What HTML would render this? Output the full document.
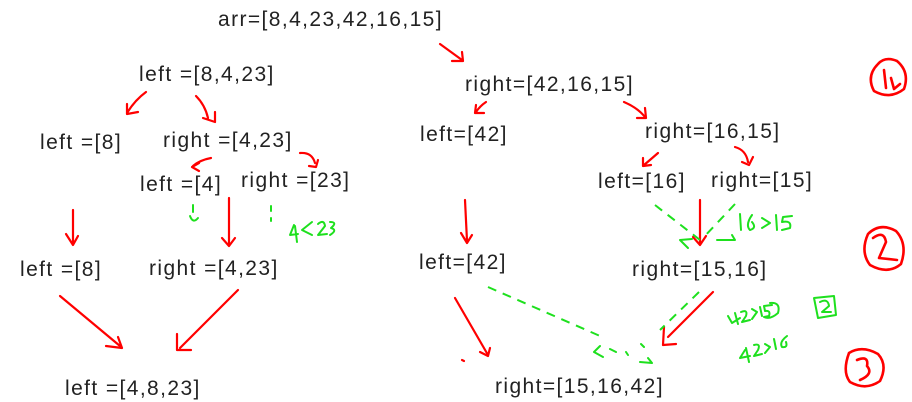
<!DOCTYPE html>
<html><head><meta charset="utf-8"><style>
html,body{margin:0;padding:0;background:#fff;}
svg{display:block;}
text{font-family:"Liberation Sans",Arial,sans-serif;font-size:21px;letter-spacing:1.4px;fill:#222;}
.r{stroke:#f00;stroke-width:2.2;fill:none;stroke-linecap:round;stroke-linejoin:round;}
.g{stroke:#1ee01e;stroke-width:2;fill:none;stroke-linecap:round;stroke-linejoin:round;}
.gd{stroke:#1ee01e;stroke-width:2;fill:none;stroke-dasharray:9 7;}
</style></head><body>
<svg width="912" height="402" viewBox="0 0 912 402">
<g>
<text x="218" y="26">arr=[8,4,23,42,16,15]</text>
<text x="139" y="81">left =[8,4,23]</text>
<text x="465" y="91">right=[42,16,15]</text>
<text x="40" y="149">left =[8]</text>
<text x="163" y="147">right =[4,23]</text>
<text x="420" y="141">left=[42]</text>
<text x="645" y="138">right=[16,15]</text>
<text x="140" y="191">left =[4]</text>
<text x="241" y="187">right =[23]</text>
<text x="598" y="188">left=[16]</text>
<text x="711" y="187">right=[15]</text>
<text x="20" y="276">left =[8]</text>
<text x="149" y="275">right =[4,23]</text>
<text x="419" y="269">left=[42]</text>
<text x="632" y="276">right=[15,16]</text>
<text x="65" y="395">left =[4,8,23]</text>
<text x="495" y="393">right=[15,16,42]</text>
</g>
<g>
<path class="r" d="M440 44 L462 60 M452 61 L463 61 L462 52"/>
<path class="r" d="M146 92 Q135 100 127 113 M127 104 L127 114 L138 112"/>
<path class="r" d="M196 96 Q205 105 208 118 M203 118 L215 122 L215 112"/>
<path class="r" d="M211 158 Q200 160 193 166 M199 171 L192 167 L199 163"/>
<path class="r" d="M300 153 Q312 152 315 163 M309 166 L316 167 L318 160"/>
<path class="r" d="M486 102 Q480 106 476 112 M476 105 L475 113 L484 113"/>
<path class="r" d="M624 102 Q638 108 645 117 M637 118 L646 118 L645 108"/>
<path class="r" d="M658 153 Q650 160 644 165 M643 158 L643 166 L651 165"/>
<path class="r" d="M735 147 Q746 150 748 162 M742 162 L749 165 L753 157"/>
<path class="r" d="M73 210 L73 244 M66 234 L73 245 L78 236"/>
<path class="r" d="M229 198 L229 244 M222 238 L229 246 L235 238"/>
<path class="r" d="M465 200 L467 241 M461 233 L467 243 L472 235"/>
<path class="r" d="M700 200 L700 243 M693 237 L700 245 L706 236"/>
<path class="r" d="M60 296 L120 346 M106 346 L122 348 L118 337"/>
<path class="r" d="M238 290 L180 348 M177 334 L177 350 L191 350"/>
<path class="r" d="M455 298 L488 355 M480 352 L488 356 L490 348 M462 360 L464 361"/>
<path class="r" d="M713 292 L668 337 M664 327 L663 345 L676 344"/>
</g>
<g>
<path class="g" d="M193 205 L193 212 M190 216 Q193 224 198 218"/>
<path class="g" d="M271 206 L271 211 M271 218 L271 221"/>
<path class="g" d="M294 225 L290 235 L298 234 M295 226 L297 242 M312 222 L302 230 L312 235 M318 224 Q324 219 325 226 L318 235 L327 234 M330 222 Q338 222 331 228 Q338 230 330 235"/>
<path class="gd" d="M655 205 L700 240 M735 204 L703 238"/>
<path class="g" d="M692 239 L680 240 L688 248 M717 240 L735 240 L732 235"/>
<path class="g" d="M740 214 L741 230 M752 215 Q745 225 750 230 Q757 228 752 222 M762 218 L770 223 L762 228 M776 215 L777 230 M792 216 L783 217 L782 222 Q792 220 790 228 L782 230"/>
<path class="gd" d="M488 287 L600 336"/>
<path class="gd" d="M699 292 L660 330"/>
<path class="g" d="M600 346 L594 352 L603 357 M610 349 L616 352 M626 352 L628 355 M641 344 L644 347 M640 362 L652 363 L648 358"/>
<path class="g" d="M728 316 L732 323 L740 318 M735 313 L738 324 M741 312 Q748 309 746 316 L742 322 L750 320 M752 309 L757 312 L752 319 M760 307 L762 316 M772 305 L764 306 L765 311 Q771 310 769 316 L764 317 Q770 320 778 313 Q781 302 770 303"/>
<path class="g" d="M814 298 L818 318 L836 315 L834 296 Z M820 302 Q828 298 829 306 L822 312 L831 312"/>
<path class="g" d="M745 350 L740 358 L750 356 M746 348 L749 362 M754 345 Q761 343 758 350 L754 356 L762 354 M765 344 L770 347 L765 353 M774 339 L776 349 M787 336 Q779 342 782 347 Q788 348 786 342"/>
</g>
<g>
<path class="r" style="stroke-width:2.6" d="M878 64 Q866 76 874 91 Q890 100 904 89 Q910 72 897 61 Q885 56 878 64 M884 70 L886 88 M891 78 L894 89 L900 84"/>
<path class="r" style="stroke-width:2.6" d="M868 234 Q860 252 870 265 Q888 275 901 264 Q908 244 896 231 Q880 222 868 234 M873 238 Q884 230 886 242 L879 258 L897 260"/>
<path class="r" style="stroke-width:2.6" d="M849 353 Q842 372 850 382 Q866 391 880 381 Q888 365 878 354 Q862 345 849 353 M857 360 Q869 355 867 366 Q874 374 860 380"/>
</g>
</svg>
</body></html>
